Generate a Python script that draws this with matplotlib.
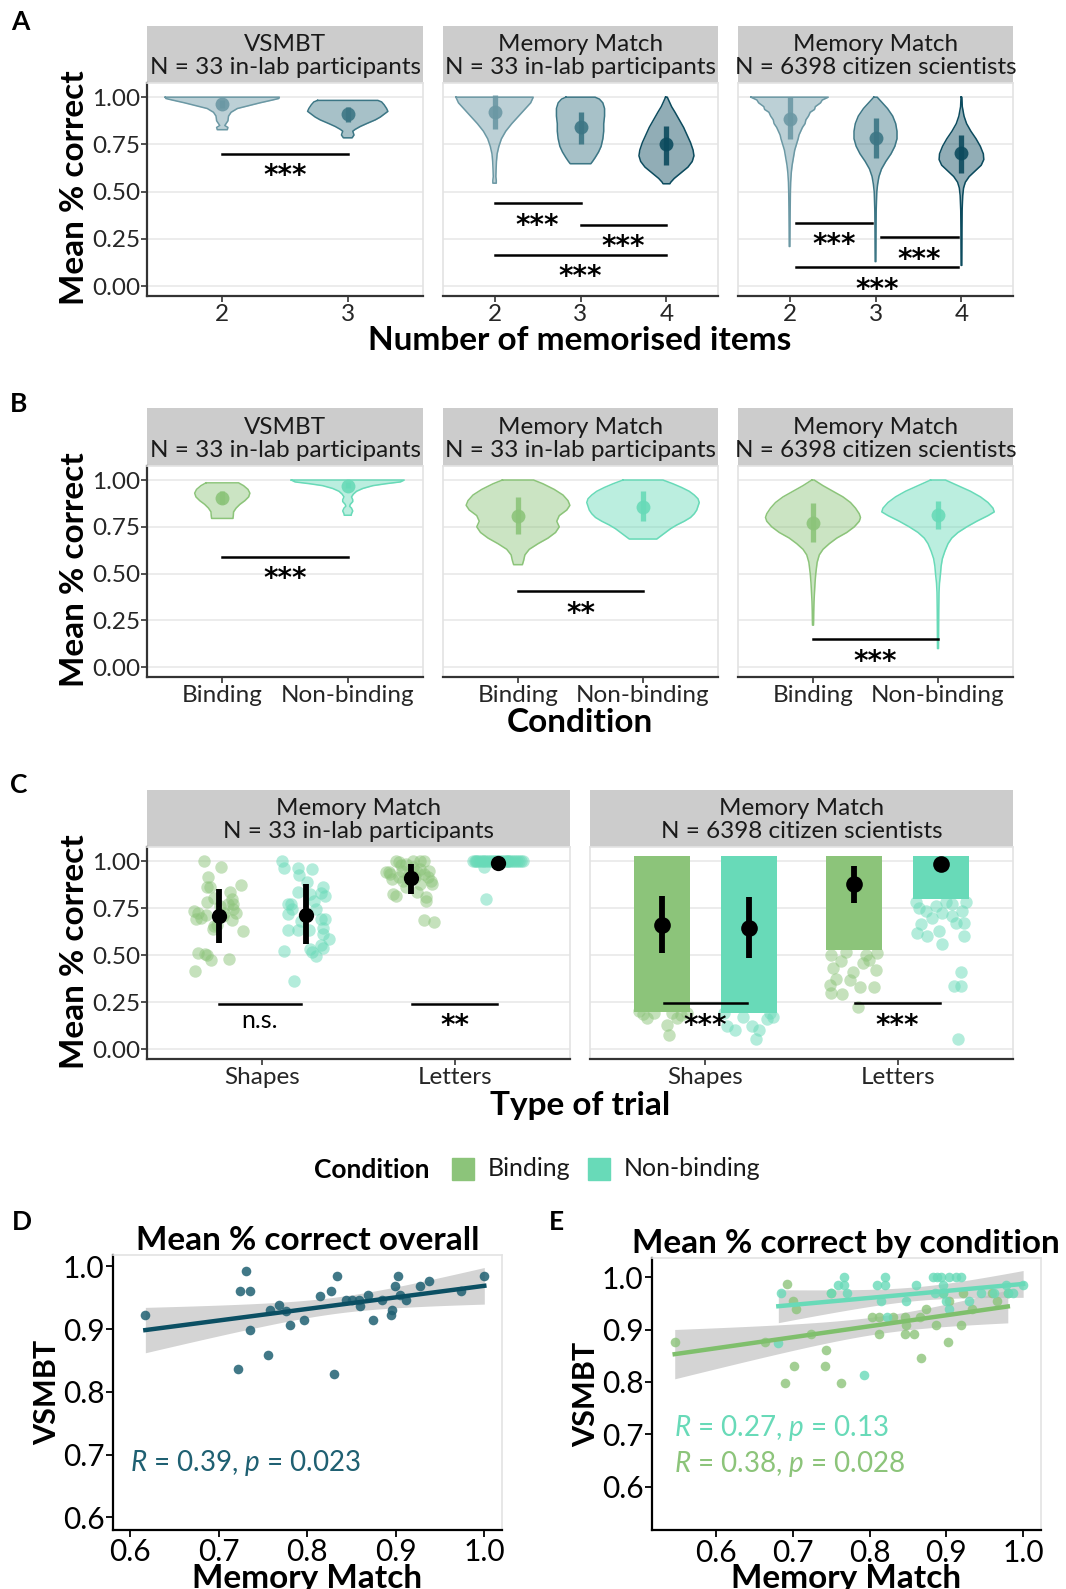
import numpy as np
import matplotlib
matplotlib.use('Agg')
import matplotlib.pyplot as plt
from matplotlib.patches import Rectangle

plt.rcParams['font.family'] = ['Lato', 'DejaVu Sans']
plt.rcParams['mathtext.fontset'] = 'custom'
plt.rcParams['mathtext.it'] = 'Lato:italic'
plt.rcParams['mathtext.rm'] = 'Lato'

W, H = 1066, 1589

TEAL2 = '#6b98a4'
TEAL3 = '#3c7685'
TEAL4 = '#0c4b5e'
GREEN = '#8cc47a'
MINT = '#68dab8'
DARK = '#0b4f63'
TICKC = '#262626'

# ---------------- data ----------------
strip_lab1 = 'VSMBT\nN = 33 in-lab participants'
strip_lab2 = 'Memory Match\nN = 33 in-lab participants'
strip_cit = 'Memory Match\nN = 6398 citizen scientists'

a1_items = ['2', '3']
a2_items = ['2', '3', '4']
a3_items = ['2', '3', '4']

# violin outlines: y levels and half widths (category units)
a1_v2 = ([1.0, .993, .985, .97, .955, .94, .92, .90, .875, .86, .85, .84, .828],
         [.455, .45, .40, .30, .21, .12, .07, .05, .045, .03, .02, .045, .04])
a1_v3 = ([.983, .975, .96, .94, .925, .91, .895, .88, .86, .845, .83, .82, .81, .80, .79, .785],
         [.24, .27, .29, .31, .32, .29, .26, .22, .15, .10, .06, .04, .045, .05, .04, .035])
a2_v2 = ([1.0, .97, .94, .90, .86, .82, .78, .74, .70, .66, .62, .58, .56, .545],
         [.45, .42, .36, .28, .20, .13, .08, .05, .03, .022, .018, .015, .02, .02])
a2_v3 = ([1.0, .99, .97, .94, .90, .86, .82, .78, .74, .71, .68, .66, .648],
         [.17, .22, .26, .28, .28, .27, .27, .26, .24, .21, .17, .14, .12])
a2_v4 = ([1.0, .98, .95, .92, .88, .84, .80, .76, .72, .69, .66, .63, .60, .57, .55, .542],
         [.01, .03, .06, .10, .15, .20, .24, .28, .31, .32, .30, .25, .17, .09, .05, .04])
a3_v2 = ([1.0, .985, .97, .95, .935, .92, .90, .88, .86, .84, .82, .80, .78, .75, .72, .68,
          .64, .60, .55, .50, .40, .30, .21],
         [.45, .38, .36, .30, .29, .24, .22, .19, .18, .15, .13, .11, .10, .08, .06, .045,
          .03, .02, .013, .01, .007, .005, .004])
a3_v3 = ([1.0, .97, .94, .90, .86, .82, .78, .74, .70, .66, .62, .58, .54, .50, .40, .30, .20, .13],
         [.02, .08, .14, .20, .235, .25, .25, .225, .18, .12, .07, .04, .025, .015, .008, .006, .005, .004])
a3_v4 = ([1.0, .95, .90, .86, .82, .78, .74, .70, .67, .64, .61, .58, .55, .52, .48, .40, .30, .20, .11],
         [.005, .01, .03, .06, .11, .17, .22, .255, .26, .23, .16, .09, .045, .025, .015, .008, .006, .005, .004])

a1_mean = [0.965, 0.91]
a1_lo = [0.945, 0.87]
a1_hi = [0.985, 0.95]
a2_mean = [0.92, 0.84, 0.75]
a2_lo = [0.83, 0.75, 0.64]
a2_hi = [1.01, 0.92, 0.85]
a3_mean = [0.885, 0.785, 0.705]
a3_lo = [0.78, 0.68, 0.60]
a3_hi = [1.0, 0.89, 0.80]

# significance brackets: (x start, x end, y, label)
a1_sig = [(1, 2, 0.70, '***')]
a2_sig = [(1, 2, 0.44, '***'), (2, 3, 0.325, '***'), (1, 3, 0.165, '***')]
a3_sig = [(1.07, 1.96, 0.335, '***'), (2.06, 2.96, 0.26, '***'), (1.07, 2.96, 0.10, '***')]

conditions = ['Binding', 'Non-binding']

b1_vb = ([.985, .97, .95, .93, .91, .89, .87, .85, .83, .81, .795],
         [.13, .17, .205, .22, .21, .18, .14, .11, .09, .088, .085])
b1_vn = ([1.0, .99, .98, .97, .955, .94, .925, .91, .895, .885, .87, .86, .85, .835, .82, .812],
         [.45, .42, .30, .20, .12, .07, .045, .03, .04, .04, .02, .015, .03, .04, .03, .028])
b2_vb = ([1.0, .98, .95, .92, .89, .865, .84, .81, .78, .75, .72, .69, .66, .63, .60, .57, .548],
         [.125, .20, .29, .36, .40, .415, .39, .33, .31, .33, .30, .24, .16, .09, .055, .045, .035])
b2_vn = ([1.0, .98, .96, .94, .92, .90, .88, .86, .84, .82, .80, .78, .76, .74, .72, .70, .685],
         [.16, .24, .31, .37, .41, .44, .45, .44, .43, .41, .38, .33, .27, .22, .18, .14, .11])
b3_vb = ([1.0, .97, .94, .91, .88, .85, .82, .80, .78, .75, .72, .69, .66, .63, .60, .56, .50,
          .45, .40, .35, .30, .25, .225],
         [.01, .08, .16, .24, .30, .34, .37, .38, .37, .33, .27, .19, .13, .08, .05, .033, .022,
          .016, .012, .008, .006, .005, .004])
b3_vn = ([1.0, .97, .94, .91, .88, .85, .83, .81, .78, .75, .72, .69, .66, .62, .58, .54, .50,
          .45, .40, .30, .20, .10],
         [.06, .16, .26, .34, .40, .44, .45, .40, .31, .23, .16, .11, .08, .055, .035, .025, .02,
          .012, .008, .006, .005, .004])

b1_mean = [0.905, 0.97]
b1_lo = [0.87, 0.955]
b1_hi = [0.94, 0.99]
b2_mean = [0.81, 0.855]
b2_lo = [0.71, 0.78]
b2_hi = [0.91, 0.94]
b3_mean = [0.77, 0.815]
b3_lo = [0.67, 0.74]
b3_hi = [0.88, 0.89]

b1_sig = [(1, 2, 0.59, '***')]
b2_sig = [(1, 2, 0.405, '**')]
b3_sig = [(1, 2, 0.15, '***')]

trial_types = ['Shapes', 'Letters']

# panel C, in-lab participants: jitter offset and mean % correct per participant
c_shape_bind_dx = [-.078, .009, -.056, -.061, -.046, .056, .113, -.065, .065, .074, -.130, -.112, -.121,
                   -.069, .028, .087, .065, -.028, -.032, .046, .125, -.112, -.074, -.065, -.043, .050,
                   -.125, -.009, .019, -.028, .074, -.093, .006]
c_shape_bind_y = [1.0, .968, .914, .863, .863, .836, .872, .782, .797, .770, .734, .725, .692,
                  .712, .725, .725, .685, .653, .640, .773, .626, .509, .504, .500, .473, .482,
                  .415, .662, .707, .806, .743, .698, .761]
c_shape_non_dx = [-.125, -.110, -.041, .033, -.032, .009, .089, .080, .102, -.041, -.091, -.078, .043,
                  -.091, .080, .099, -.091, -.041, .089, .089, .121, .080, .089, -.115, .024, .033,
                  .052, -.059, .020, -.069, -.022, .052, .024]
c_shape_non_y = [1.0, .964, .964, .959, .928, .887, .860, .833, .815, .836, .773, .773, .788,
                 .719, .694, .692, .635, .635, .647, .613, .585, .554, .536, .522, .532, .518,
                 .495, .363, .635, .743, .680, .743, .824]
c_lett_bind_dx = [-.080, -.065, .046, .006, -.028, -.130, -.115, -.102, -.050, .046, .065, .084, .102,
                  .108, -.093, -.080, .028, .078, .078, .065, .117, -.112, -.046, .009, -.013, .046,
                  .065, -.056, .028, .093, -.028, -.065, .019]
c_lett_bind_y = [1.0, .995, 1.0, 1.0, .982, .944, .941, .905, .950, .959, .932, .914, .896,
                 .878, .824, .815, .836, .809, .788, .689, .676, .932, .896, .968, .932, .878,
                 1.0, .977, .941, .950, .860, .914, .914]
c_lett_non_dx = [-.13, -.12, -.11, -.10, -.09, -.08, -.07, -.06, -.05, -.04, -.03, -.02, -.01, 0.0,
                 .01, .02, .03, .04, .05, .06, .07, .08, .09, .10, .11, .12, .13, -.115, .045,
                 -.071, -.061]
c_lett_non_y = [1.0] * 29 + [0.968, 0.80]

c1_mean = [0.71, 0.716, 0.908, 0.991]
c1_lo = [0.567, 0.559, 0.827, 0.985]
c1_hi = [0.854, 0.878, 0.986, 0.997]
c1_sig = [(0.775, 1.2, 0.243, 'n.s.'), (1.78, 2.22, 0.243, '**')]

# panel C, citizen scientists: lower edge of the dense cloud and sparse points
c2_dense_low = [0.20, 0.19, 0.53, 0.80]
c2_shape_bind_dx = [-.076, .024, .036, -.12, .128, .076, -.10, .10, -.04, .05]
c2_shape_bind_y = [.168, .128, .077, .204, .195, .168, .185, .18, .19, .19]
c2_shape_non_dx = [-.114, -.071, .016, .055, .036, .093, -.13, .11, -.03, .125]
c2_shape_non_y = [.122, .104, .122, .104, .056, .158, .195, .195, .17, .17]
c2_lett_bind_dx = [-.128, -.063, -.12, .027, .104, -.094, -.025, .021, .113, -.11, -.008, .044, .078,
                   -.12, -.042, .12, .06, -.07]
c2_lett_bind_y = [.34, .294, .30, .33, .33, .375, .366, .222, .42, .43, .41, .456, .474, .50, .519,
                  .51, .50, .47]
c2_lett_non_dx = [-.122, -.07, -.01, .004, .12, .077, .059, .12, -.104, -.044, -.078, .008, .111,
                  -.112, -.026, .025, .103, .068, .103, .091, .13, -.13, .06]
c2_lett_non_y = [.617, .60, .627, .559, .60, .672, .708, .672, .667, .699, .735, .726, .735, .753,
                 .762, .78, .411, .335, .335, .056, .78, .78, .77]
c2_mean = [0.663, 0.645, 0.876, 0.987]
c2_lo = [0.51, 0.483, 0.775, 0.98]
c2_hi = [0.816, 0.807, 0.973, 0.995]
c2_sig = [(0.785, 1.217, 0.245, '***'), (1.78, 2.22, 0.245, '***')]

# panel D: per participant means
d_mm = [.617, .731, .724, .735, .735, .722, .756, .758, .768, .776, .781, .796, .814, .827, .833, .830,
        .844, .850, .858, .859, .869, .874, .884, .895, .896, .899, .903, .905, .912, .927, .937, .974, 1.0]
d_vs = [.922, .992, .961, .961, .899, .836, .859, .931, .938, .929, .906, .914, .953, .961, .984, .828,
        .946, .946, .946, .937, .954, .914, .946, .922, .931, .969, .984, .954, .946, .969, .977, .961, .984]
d_stat = r'$R$ = 0.39, $p$ = 0.023'

# panel E: per participant means by condition
e_bind_mm = [.546, .663, .692, .700, .704, .724, .743, .702, .742, .690, .763, .750, .803, .812, .831,
             .846, .812, .846, .858, .848, .865, .874, .886, .867, .902, .919, .904, .922, .934, .966,
             .980, .895, .959]
e_bind_vs = [.877, .876, .986, .955, .939, .892, .861, .831, .831, .799, .799, .970, .923, .923, .923,
             .923, .892, .892, .892, .909, .923, .939, .909, .845, .876, .909, .955, .970, .939, .955,
             .970, .970, .970]
e_non_mm = [.681, .684, .749, .759, .767, .767, .792, .810, .820, .820, .815, .822, .847, .860, .882,
            .888, .893, .903, .912, .919, .895, .903, .885, .930, .945, .962, .978, .980, .987, 1.0,
            .770, .895, .900]
e_non_vs = [.875, .969, .969, .984, 1.0, .984, .813, .984, 1.0, .984, .954, .923, .954, .984, 1.0,
            1.0, 1.0, 1.0, 1.0, 1.0, .984, .939, .969, .954, .969, .969, .984, .969, .969, .984,
            .970, .969, .954]
e_stat_non = r'$R$ = 0.27, $p$ = 0.13'
e_stat_bind = r'$R$ = 0.38, $p$ = 0.028'


# ---------------- helpers ----------------
fig = plt.figure(figsize=(W / 100, H / 100), dpi=100)


def px_axes(l, t, r, b):
    return fig.add_axes([l / W, 1 - b / H, (r - l) / W, (b - t) / H])


def ftext(x, y, s, **kw):
    fig.text(x / W, 1 - y / H, s, **kw)


def strip(l, t, r, b, label):
    sax = px_axes(l, t, r, b)
    sax.set_facecolor('#cccccc')
    sax.set_xticks([])
    sax.set_yticks([])
    for sp in sax.spines.values():
        sp.set_visible(False)
    sax.text(0.5, 0.47, label, ha='center', va='center', fontsize=17.5,
             color='#1a1a1a', linespacing=1.12, transform=sax.transAxes)


def facet(l, t, r, b, ncat, labels, first):
    ax = px_axes(l, t, r, b)
    ax.set_xlim(0.4, ncat + 0.6)
    ax.set_ylim(-0.052, 1.075)
    ax.set_yticks([0, 0.25, 0.5, 0.75, 1.0])
    ax.set_yticklabels(['0.00', '0.25', '0.50', '0.75', '1.00'])
    ax.set_xticks(range(1, ncat + 1))
    ax.set_xticklabels(labels)
    ax.grid(axis='y', color='#ebebeb', lw=1.3, zorder=0)
    ax.set_axisbelow(True)
    for side in ['top', 'right']:
        ax.spines[side].set_color('#e3e3e3')
        ax.spines[side].set_linewidth(1.2)
    ax.spines['bottom'].set_color('#333333')
    ax.spines['bottom'].set_linewidth(1.6)
    if first:
        ax.spines['left'].set_color('#333333')
        ax.spines['left'].set_linewidth(1.6)
    else:
        ax.spines['left'].set_color('#e3e3e3')
        ax.spines['left'].set_linewidth(1.2)
    ax.tick_params(axis='x', labelsize=17.5, colors='#333333', labelcolor=TICKC, length=4, width=1.2, pad=2)
    ax.tick_params(axis='y', labelsize=17.5, colors='#333333', labelcolor=TICKC, length=4, width=1.2, pad=1,
                   left=first, labelleft=first)
    return ax


def violin(ax, x, prof, color):
    ys = np.array(prof[0])
    ws = np.array(prof[1])
    ax.fill_betweenx(ys, x - ws, x + ws, color=color, alpha=0.45, lw=0, zorder=2)
    ax.plot(np.r_[x - ws, (x + ws)[::-1], x - ws[0]], np.r_[ys, ys[::-1], ys[0]],
            color=color, lw=1.1, zorder=3)


def pointrange(ax, x, m, lo, hi, color, ms=10, lw=3.8, alpha=0.9):
    ax.plot([x, x], [lo, hi], color=color, lw=lw, solid_capstyle='butt', alpha=alpha, zorder=5)
    ax.plot([x], [m], 'o', ms=ms, color=color, mew=0, alpha=alpha, zorder=6)


def brackets(ax, sigs):
    for x0, x1, y, lab in sigs:
        ax.plot([x0, x1], [y, y], color='black', lw=1.8, zorder=7)
        if lab == 'n.s.':
            ax.text((x0 + x1) / 2, y - 0.03, lab, ha='center', va='top', fontsize=18, zorder=7)
        else:
            ax.text((x0 + x1) / 2, y - 0.045, lab, ha='center', va='top', fontsize=20,
                    fontweight='bold', family='DejaVu Sans', zorder=7)


# ---------------- panel A ----------------
ftext(20, 22, 'A', fontsize=19, fontweight='bold', va='center', ha='center')
a_x = [(147, 423), (443, 718), (738, 1013)]
for (l, r), lab in zip(a_x, [strip_lab1, strip_lab2, strip_cit]):
    strip(l, 26, r, 83, lab)

item_cols = [TEAL2, TEAL3, TEAL4]
axA1 = facet(147, 83, 423, 296, 2, a1_items, True)
for i, prof in enumerate([a1_v2, a1_v3]):
    violin(axA1, i + 1, prof, item_cols[i])
    pointrange(axA1, i + 1, a1_mean[i], a1_lo[i], a1_hi[i], item_cols[i])
brackets(axA1, a1_sig)

axA2 = facet(443, 83, 718, 296, 3, a2_items, False)
for i, prof in enumerate([a2_v2, a2_v3, a2_v4]):
    violin(axA2, i + 1, prof, item_cols[i])
    pointrange(axA2, i + 1, a2_mean[i], a2_lo[i], a2_hi[i], item_cols[i])
brackets(axA2, a2_sig)

axA3 = facet(738, 83, 1013, 296, 3, a3_items, False)
for i, prof in enumerate([a3_v2, a3_v3, a3_v4]):
    violin(axA3, i + 1, prof, item_cols[i])
    pointrange(axA3, i + 1, a3_mean[i], a3_lo[i], a3_hi[i], item_cols[i])
brackets(axA3, a3_sig)

ftext(580, 340, 'Number of memorised items', fontsize=24, fontweight='bold', ha='center', va='center')
ftext(74, 188, 'Mean % correct', fontsize=24, fontweight='bold', ha='center', va='center', rotation=90)

# ---------------- panel B ----------------
ftext(19, 404, 'B', fontsize=19, fontweight='bold', va='center', ha='center')
cond_cols = [GREEN, MINT]
for (l, r), lab in zip(a_x, [strip_lab1, strip_lab2, strip_cit]):
    strip(l, 408, r, 466, lab)

b_sets = [(b1_vb, b1_vn, b1_mean, b1_lo, b1_hi, b1_sig),
          (b2_vb, b2_vn, b2_mean, b2_lo, b2_hi, b2_sig),
          (b3_vb, b3_vn, b3_mean, b3_lo, b3_hi, b3_sig)]
for k, ((l, r), (vb, vn, mn, lo, hi, sg)) in enumerate(zip(a_x, b_sets)):
    ax = facet(l, 466, r, 677, 2, conditions, k == 0)
    for i, prof in enumerate([vb, vn]):
        violin(ax, i + 1, prof, cond_cols[i])
        pointrange(ax, i + 1, mn[i], lo[i], hi[i], cond_cols[i])
    brackets(ax, sg)

ftext(580, 723, 'Condition', fontsize=24, fontweight='bold', ha='center', va='center')
ftext(74, 570, 'Mean % correct', fontsize=24, fontweight='bold', ha='center', va='center', rotation=90)

# ---------------- panel C ----------------
ftext(19, 785, 'C', fontsize=19, fontweight='bold', va='center', ha='center')
strip(147, 790, 570, 847, strip_lab2)
strip(590, 790, 1013, 847, strip_cit)

dodge = [-0.225, 0.225]
axC1 = facet(147, 847, 570, 1059, 2, trial_types, True)
c1_groups = [(1 + dodge[0], c_shape_bind_dx, c_shape_bind_y, GREEN),
             (1 + dodge[1], c_shape_non_dx, c_shape_non_y, MINT),
             (2 + dodge[0], c_lett_bind_dx, c_lett_bind_y, GREEN),
             (2 + dodge[1], c_lett_non_dx, c_lett_non_y, MINT)]
for j, (pos, dx, yv, col) in enumerate(c1_groups):
    axC1.scatter(pos + np.array(dx), yv, s=80, color=col, alpha=0.5, lw=0, zorder=3)
    pointrange(axC1, pos, c1_mean[j], c1_lo[j], c1_hi[j], 'black', ms=11, lw=4.2, alpha=1)
brackets(axC1, c1_sig)

axC2 = facet(590, 847, 1013, 1059, 2, trial_types, False)
c2_groups = [(1 + dodge[0], c2_shape_bind_dx, c2_shape_bind_y, GREEN),
             (1 + dodge[1], c2_shape_non_dx, c2_shape_non_y, MINT),
             (2 + dodge[0], c2_lett_bind_dx, c2_lett_bind_y, GREEN),
             (2 + dodge[1], c2_lett_non_dx, c2_lett_non_y, MINT)]
for j, (pos, dx, yv, col) in enumerate(c2_groups):
    axC2.add_patch(Rectangle((pos - 0.145, c2_dense_low[j]), 0.29, 1.025 - c2_dense_low[j],
                             color=col, lw=0, zorder=2))
    axC2.scatter(pos + np.array(dx), yv, s=80, color=col, alpha=0.5, lw=0, zorder=3)
    pointrange(axC2, pos, c2_mean[j], c2_lo[j], c2_hi[j], 'black', ms=12, lw=4.2, alpha=1)
brackets(axC2, c2_sig)

ftext(580, 1105, 'Type of trial', fontsize=24, fontweight='bold', ha='center', va='center')
ftext(74, 952, 'Mean % correct', fontsize=24, fontweight='bold', ha='center', va='center', rotation=90)

# ---------------- legend ----------------
ftext(372, 1170, 'Condition', fontsize=19, fontweight='bold', ha='center', va='center')
for (x0, lab), col in zip([(452, 'Binding'), (588, 'Non-binding')], [GREEN, MINT]):
    fig.patches.append(Rectangle((x0 / W, 1 - 1180 / H), 22 / W, 22 / H, color=col,
                                 transform=fig.transFigure, figure=fig))
    ftext(x0 + 36, 1169, lab, fontsize=18, ha='left', va='center', color='#1a1a1a')


# ---------------- panels D and E ----------------
def scatter_axes(ax, xlim, ylim, yticks):
    ax.set_xlim(*xlim)
    ax.set_ylim(*ylim)
    ax.set_xticks([0.6, 0.7, 0.8, 0.9, 1.0])
    ax.set_yticks(yticks)
    for side in ['top', 'right']:
        ax.spines[side].set_color('#e3e3e3')
        ax.spines[side].set_linewidth(1.2)
    for side in ['left', 'bottom']:
        ax.spines[side].set_color('black')
        ax.spines[side].set_linewidth(1.6)
    ax.tick_params(labelsize=21.5, length=5, width=1.3, pad=1, colors='black')
    ax.set_xlabel('Memory Match', fontsize=24, fontweight='bold', labelpad=-2)
    ax.set_ylabel('VSMBT', fontsize=22, fontweight='bold', labelpad=1)


def fit_band(ax, xv, yv, color):
    x = np.array(xv)
    y = np.array(yv)
    n = len(x)
    b, a = np.polyfit(x, y, 1)
    xs = np.linspace(x.min(), x.max(), 100)
    yhat = a + b * xs
    resid = y - (a + b * x)
    s = np.sqrt(np.sum(resid ** 2) / (n - 2))
    se = s * np.sqrt(1 / n + (xs - x.mean()) ** 2 / np.sum((x - x.mean()) ** 2))
    ax.fill_between(xs, yhat - 2.04 * se, yhat + 2.04 * se, color='#bdbdbd', alpha=0.65, lw=0, zorder=1)
    ax.plot(xs, yhat, color=color, lw=3.2, zorder=4)


ftext(22, 1222, 'D', fontsize=19, fontweight='bold', va='center', ha='center')
axD = px_axes(112.6, 1255, 502, 1530)
axD.scatter(d_mm, d_vs, s=48, color='#1f6072', alpha=0.85, lw=0, zorder=3)
fit_band(axD, d_mm, d_vs, DARK)
scatter_axes(axD, (0.58, 1.02), (0.58, 1.018), [0.6, 0.7, 0.8, 0.9, 1.0])
axD.text(0.6, 0.687, d_stat, color='#1f6072', fontsize=20, ha='left', va='center')
axD.set_title('Mean % correct overall', fontsize=24, fontweight='bold', pad=3)

ftext(556, 1222, 'E', fontsize=19, fontweight='bold', va='center', ha='center')
axE = px_axes(651.7, 1257.7, 1040.8, 1530.4)
axE.scatter(e_bind_mm, e_bind_vs, s=48, color=GREEN, alpha=0.8, lw=0, zorder=3)
axE.scatter(e_non_mm, e_non_vs, s=48, color=MINT, alpha=0.8, lw=0, zorder=3)
fit_band(axE, e_bind_mm, e_bind_vs, '#7fbf6c')
fit_band(axE, e_non_mm, e_non_vs, MINT)
scatter_axes(axE, (0.516, 1.023), (0.517, 1.037), [0.6, 0.7, 0.8, 0.9, 1.0])
axE.text(0.545, 0.713, e_stat_non, color=MINT, fontsize=20, ha='left', va='center')
axE.text(0.545, 0.643, e_stat_bind, color=GREEN, fontsize=20, ha='left', va='center')
axE.set_title('Mean % correct by condition', fontsize=24, fontweight='bold', pad=3)

fig.savefig('out.png', dpi=100)
